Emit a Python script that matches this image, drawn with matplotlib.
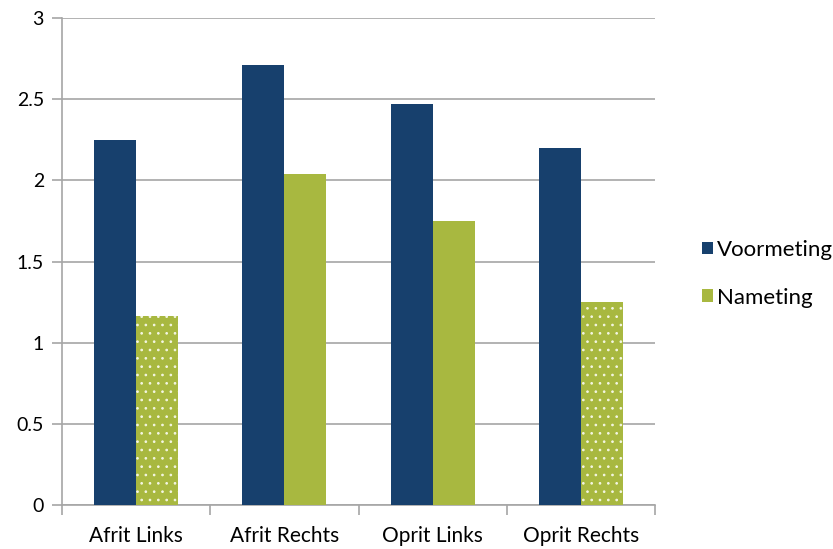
import matplotlib.pyplot as plt
import numpy as np

categories = ["Afrit Links", "Afrit Rechts", "Oprit Links", "Oprit Rechts"]
voormeting = [2.25, 2.71, 2.47, 2.20]
nameting = [1.165, 2.04, 1.75, 1.25]
nameting_dotted = [True, False, False, True]

BLUE = "#17406d"
GREEN = "#a8b840"
GRID = "#a6a6a6"

plt.rcParams['font.family'] = ['Lato', 'DejaVu Sans']
plt.rcParams['hatch.color'] = '#f4f6e4'
plt.rcParams['hatch.linewidth'] = 0.7

fig = plt.figure(figsize=(8.33, 5.49), dpi=100)
ax = fig.add_axes([0.0744, 0.080, 0.712, 0.887])

x = np.arange(len(categories))
w = 0.284
ax.bar(x - w / 2, voormeting, w, color=BLUE, label="Voormeting", zorder=3)
bars = ax.bar(x + w / 2, nameting, w, color=GREEN, label="Nameting", zorder=3)
for b, dotted in zip(bars, nameting_dotted):
    if dotted:
        b.set_hatch('..')
        b.set_linewidth(0)

ax.set_xlim(-0.5, len(categories) - 0.5)
ax.set_ylim(0, 3)
ax.set_yticks(np.arange(0, 3.01, 0.5))
ax.set_yticklabels(["0", "0.5", "1", "1.5", "2", "2.5", "3"])
ax.yaxis.grid(True, color=GRID, linewidth=1.2, zorder=0)

ax.set_xticks(x)
ax.set_xticklabels(categories)
ax.set_xticks(np.arange(-0.5, len(categories)), minor=True)
ax.tick_params(axis='x', which='major', length=0, pad=15, labelsize=15)
ax.tick_params(axis='x', which='minor', length=7, color=GRID, width=1.2)
ax.tick_params(axis='y', length=7, color=GRID, width=1.2, labelsize=14, pad=6)

for side in ['top', 'right']:
    ax.spines[side].set_visible(False)
for side in ['left', 'bottom']:
    ax.spines[side].set_color(GRID)
    ax.spines[side].set_linewidth(1.2)

leg = ax.legend(loc='center left', bbox_to_anchor=(1.045, 0.475), frameon=False,
                fontsize=16, handlelength=0.5, handleheight=0.5,
                handletextpad=0.2, labelspacing=1.25)
for h in leg.legend_handles:
    h.set_hatch(None)

fig.savefig("out.png", dpi=100)
